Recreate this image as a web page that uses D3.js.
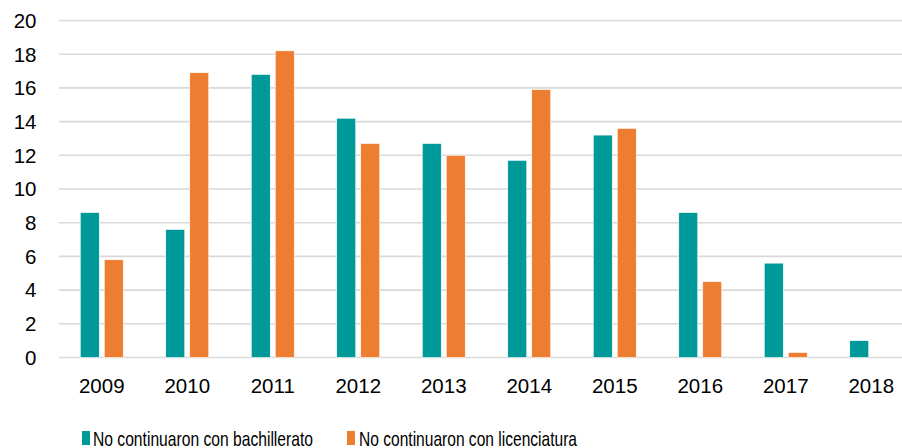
<!DOCTYPE html>
<html>
<head>
<meta charset="utf-8">
<script src="https://cdn.jsdelivr.net/npm/d3@7"></script>
<style>
  body { margin: 0; background: #fff; }
  text { font-family: "Liberation Sans", Arial, sans-serif; fill: #000; }
</style>
</head>
<body>
<svg id="chart" width="902" height="448"></svg>
<script>
var years = ["2009","2010","2011","2012","2013","2014","2015","2016","2017","2018"];
var seriesNames = ["No continuaron con bachillerato", "No continuaron con licenciatura"];
var bachillerato = [8.6, 7.6, 16.8, 14.2, 12.7, 11.7, 13.2, 8.6, 5.6, 1.0];
var licenciatura = [5.8, 16.9, 18.2, 12.7, 12.0, 15.9, 13.6, 4.5, 0.3, null];
var yTicks = [0, 2, 4, 6, 8, 10, 12, 14, 16, 18, 20];
var colors = ["#009999", "#ED7D31"];

var svg = d3.select("#chart");

// plot area (the right side is cut off in the original)
var plotLeft = 59, plotRight = 914, plotTop = 20.5, plotBottom = 357.5;

var x0 = d3.scaleBand().domain(years).range([plotLeft, plotRight]).padding(0);
var x1 = d3.scaleBand().domain([0, 1]).range([0, x0.bandwidth()])
  .paddingInner(0.208).paddingOuter(0.886);
var y = d3.scaleLinear().domain([0, 20]).range([plotBottom, plotTop]);

// gridlines
svg.append("g")
  .selectAll("line")
  .data(yTicks)
  .join("line")
  .attr("x1", plotLeft).attr("x2", 902)
  .attr("y1", function(d) { return y(d); })
  .attr("y2", function(d) { return y(d); })
  .attr("stroke", "#d9d9d9")
  .attr("stroke-width", 1.6);

// y labels
svg.append("g")
  .selectAll("text")
  .data(yTicks)
  .join("text")
  .attr("x", 36.5)
  .attr("y", function(d) { return y(d); })
  .attr("dy", "0.36em")
  .attr("text-anchor", "end")
  .style("font-size", "20.5px")
  .text(function(d) { return d; });

// bars
var rows = years.map(function(yr, i) {
  return { year: yr, values: [bachillerato[i], licenciatura[i]] };
});

var groups = svg.append("g")
  .selectAll("g")
  .data(rows)
  .join("g")
  .attr("transform", function(d) { return "translate(" + x0(d.year) + ",0)"; });

groups.selectAll("rect")
  .data(function(d) {
    return d.values.map(function(v, k) { return { k: k, v: v }; })
      .filter(function(e) { return e.v != null; });
  })
  .join("rect")
  .attr("x", function(d) { return x1(d.k); })
  .attr("width", x1.bandwidth())
  .attr("y", function(d) { return y(d.v); })
  .attr("height", function(d) { return y(0) - y(d.v); })
  .attr("fill", function(d) { return colors[d.k]; })
  .attr("stroke", "#fff")
  .attr("stroke-width", 0.6);

// x labels
svg.append("g")
  .selectAll("text")
  .data(years)
  .join("text")
  .attr("x", function(d) { return x0(d) + x0.bandwidth() / 2; })
  .attr("y", 393)
  .attr("text-anchor", "middle")
  .style("font-size", "20.5px")
  .text(function(d) { return d; });

// legend
var legend = [
  { name: seriesNames[0], color: colors[0], mx: 82, tx: 93, tw: 220 },
  { name: seriesNames[1], color: colors[1], mx: 347, tx: 359, tw: 218 }
];
var lg = svg.append("g");
legend.forEach(function(l) {
  lg.append("rect")
    .attr("x", l.mx).attr("y", 431)
    .attr("width", 8).attr("height", 14)
    .attr("fill", l.color);
  lg.append("text")
    .attr("x", l.tx).attr("y", 445.5)
    .attr("textLength", l.tw)
    .attr("lengthAdjust", "spacingAndGlyphs")
    .style("font-size", "21px")
    .text(l.name);
});
</script>
</body>
</html>
